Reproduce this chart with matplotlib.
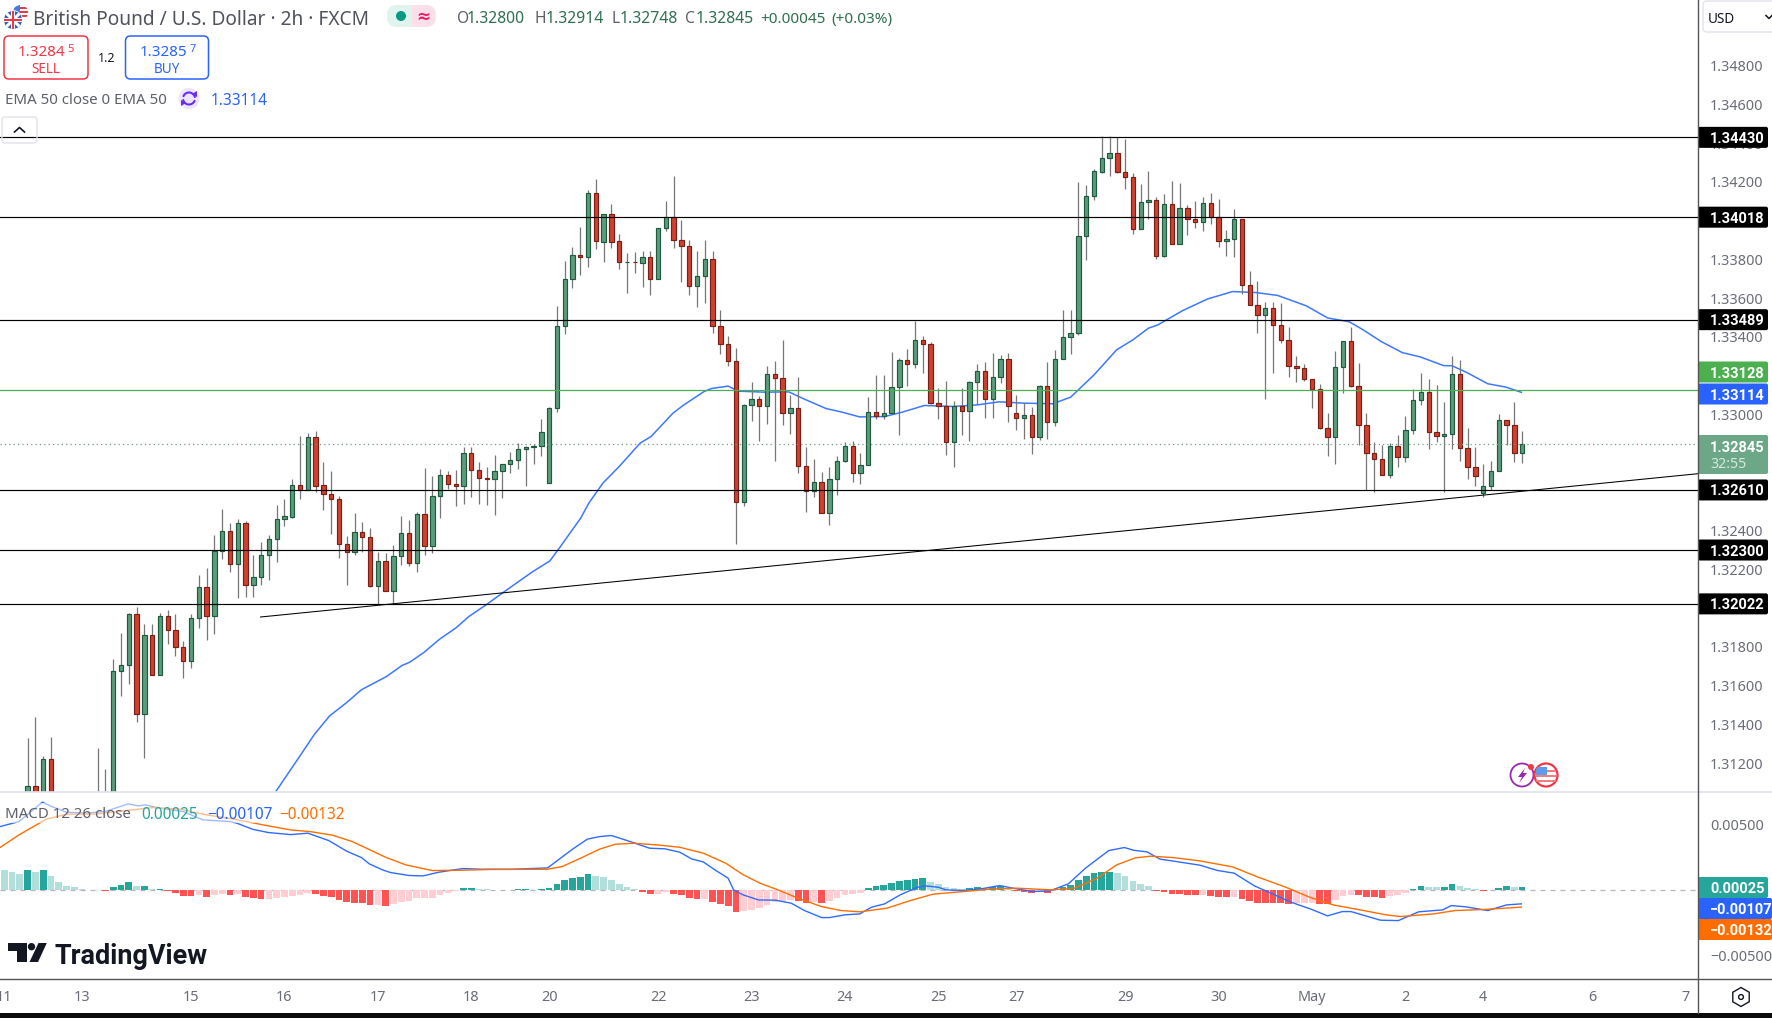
#!/usr/bin/env python3
"""GBP/USD 2h chart with EMA 50, support/resistance levels and a MACD pane."""

import matplotlib
matplotlib.use("Agg")

import matplotlib.pyplot as plt
import numpy as np
from matplotlib.patches import Circle, FancyBboxPatch, Polygon, Rectangle, RegularPolygon

plt.rcParams["font.family"] = ["Noto Sans", "DejaVu Sans"]

opens = [
    1.3095, 1.3108, 1.3090, 1.31221, 1.3090, 1.3085, 1.3080, 1.3088, 1.3082, 1.3090,
    1.3095, 1.3100, 1.31673, 1.31704, 1.31969, 1.31453, 1.31861, 1.31654, 1.31957, 1.31886,
    1.31799, 1.31727, 1.31948, 1.32108, 1.31957, 1.32294, 1.32397, 1.32227, 1.32439, 1.32119,
    1.3216, 1.32273, 1.32356, 1.32459, 1.32473, 1.32635, 1.32612, 1.32882, 1.32635, 1.32588,
    1.32562, 1.3233, 1.32292, 1.32392, 1.32366, 1.32114, 1.32243, 1.32088, 1.32268, 1.32387,
    1.32232, 1.32485, 1.3232, 1.32578, 1.32686, 1.3264, 1.32628, 1.328, 1.32712, 1.32671,
    1.32666, 1.32707, 1.32743, 1.32764, 1.3282, 1.32831, 1.32839, 1.32645, 1.33032, 1.33455,
    1.33698, 1.33821, 1.33811, 1.34141, 1.33892, 1.34033, 1.33894, 1.33785, 1.33787, 1.3378,
    1.33811, 1.33698, 1.33961, 1.34018, 1.33899, 1.33868, 1.33662, 1.33713, 1.33801, 1.33455,
    1.33362, 1.33275, 1.32547, 1.33048, 1.33079, 1.33043, 1.33208, 1.33187, 1.33006, 1.33032,
    1.32733, 1.32604, 1.3265, 1.3249, 1.32666, 1.32757, 1.32836, 1.32697, 1.32738, 1.33012,
    1.32994, 1.33006, 1.33141, 1.3328, 1.33259, 1.33383, 1.33362, 1.33061, 1.33043, 1.3286,
    1.33043, 1.33015, 1.33166, 1.33223, 1.33079, 1.33192, 1.33285, 1.33006, 1.32981, 1.32996,
    1.32881, 1.33146, 1.3296, 1.33285, 1.33399, 1.33419, 1.3392, 1.34126, 1.34253, 1.34322,
    1.34348, 1.34253, 1.34224, 1.33956, 1.34095, 1.34105, 1.33817, 1.34085, 1.33882, 1.34064,
    1.34007, 1.33995, 1.3409, 1.34018, 1.33894, 1.33904, 1.34007, 1.33667, 1.33564, 1.33512,
    1.33548, 1.3346, 1.33383, 1.33249, 1.33237, 1.33182, 1.3313, 1.32929, 1.32883, 1.33244,
    1.33378, 1.33149, 1.32944, 1.328, 1.32769, 1.32686, 1.32836, 1.32779, 1.32919, 1.33073,
    1.33115, 1.32908, 1.32888, 1.32898, 1.33208, 1.32826, 1.32731, 1.32592, 1.3263, 1.32707,
    1.3297, 1.32944, 1.328,
]
highs = [
    1.31329, 1.31438, 1.31238, 1.31334, 1.3100, 1.3095, 1.3092, 1.3098, 1.31057, 1.31278,
    1.31171, 1.31737, 1.31871, 1.31975, 1.32005, 1.31919, 1.31919, 1.31974, 1.31991, 1.31971,
    1.3183, 1.31971, 1.32172, 1.32208, 1.32378, 1.32513, 1.32439, 1.32461, 1.32449, 1.32273,
    1.32342, 1.32378, 1.32533, 1.32564, 1.32667, 1.32886, 1.32905, 1.32915, 1.32755, 1.32709,
    1.3258, 1.32373, 1.32492, 1.32445, 1.32415, 1.32291, 1.32284, 1.32327, 1.32475, 1.32454,
    1.32497, 1.32722, 1.32683, 1.32717, 1.32709, 1.32714, 1.32832, 1.32832, 1.32755, 1.32729,
    1.32789, 1.32743, 1.32807, 1.32853, 1.32836, 1.32848, 1.32977, 1.33037, 1.33557, 1.33792,
    1.33866, 1.33966, 1.34159, 1.34215, 1.34033, 1.34087, 1.3393, 1.33832, 1.33839, 1.33844,
    1.33844, 1.33961, 1.34102, 1.34231, 1.34004, 1.33899, 1.33844, 1.33899, 1.33844, 1.3354,
    1.33405, 1.33342, 1.33053, 1.33168, 1.33094, 1.33249, 1.33275, 1.33385, 1.33099, 1.33194,
    1.32833, 1.32771, 1.32704, 1.3273, 1.32786, 1.32858, 1.32864, 1.32802, 1.33091, 1.33204,
    1.33204, 1.33321, 1.3329, 1.33338, 1.33483, 1.33405, 1.33375, 1.33137, 1.33173, 1.3307,
    1.33137, 1.33173, 1.33259, 1.3327, 1.33316, 1.33307, 1.33316, 1.33101, 1.33058, 1.3304,
    1.33153, 1.3327, 1.33331, 1.3354, 1.3354, 1.342, 1.34183, 1.34265, 1.34437, 1.34437,
    1.34434, 1.34422, 1.34245, 1.3419, 1.34257, 1.34121, 1.34138, 1.34205, 1.34195, 1.34081,
    1.34102, 1.34121, 1.34143, 1.34112, 1.33951, 1.34059, 1.34007, 1.33741, 1.33689, 1.33581,
    1.33581, 1.33576, 1.33452, 1.33302, 1.33261, 1.33182, 1.33156, 1.33006, 1.33328, 1.33378,
    1.33452, 1.33264, 1.33006, 1.32858, 1.32843, 1.32853, 1.32895, 1.32993, 1.33132, 1.33213,
    1.33182, 1.33151, 1.33063, 1.33302, 1.33282, 1.32931, 1.32833, 1.32743, 1.3276, 1.33003,
    1.3297, 1.33063, 1.32914,
]
lows = [
    1.3090, 1.3085, 1.3085, 1.3085, 1.3080, 1.3075, 1.3072, 1.3078, 1.3078, 1.3085,
    1.3090, 1.3095, 1.31544, 1.31611, 1.3141, 1.31224, 1.31654, 1.31654, 1.31813, 1.31751,
    1.31637, 1.31689, 1.31895, 1.31838, 1.31869, 1.32256, 1.32184, 1.3205, 1.32055, 1.32055,
    1.3212, 1.32146, 1.32236, 1.32425, 1.32463, 1.32564, 1.32612, 1.32597, 1.32504, 1.32384,
    1.32261, 1.32117, 1.32273, 1.32292, 1.32107, 1.32017, 1.32088, 1.32026, 1.32225, 1.32215,
    1.32184, 1.32272, 1.32284, 1.32463, 1.32616, 1.32525, 1.3254, 1.32576, 1.3254, 1.32533,
    1.32483, 1.32571, 1.327, 1.32716, 1.32633, 1.32746, 1.32783, 1.32645, 1.3301, 1.33416,
    1.33655, 1.33717, 1.33763, 1.33856, 1.33787, 1.33861, 1.33748, 1.33629, 1.33732, 1.3366,
    1.33614, 1.33698, 1.33949, 1.33861, 1.33684, 1.33615, 1.33552, 1.33577, 1.33419, 1.33314,
    1.33252, 1.3233, 1.32525, 1.32967, 1.32865, 1.32953, 1.32762, 1.32946, 1.32901, 1.32695,
    1.32494, 1.32576, 1.3249, 1.32427, 1.32582, 1.32752, 1.32649, 1.32643, 1.32738, 1.32974,
    1.32974, 1.33006, 1.32896, 1.33147, 1.33242, 1.33216, 1.33056, 1.32974, 1.32788, 1.3273,
    1.32895, 1.32865, 1.33055, 1.32979, 1.32984, 1.3316, 1.32963, 1.3292, 1.32874, 1.32798,
    1.3287, 1.32874, 1.32938, 1.33285, 1.33314, 1.33409, 1.33798, 1.34107, 1.34248, 1.34233,
    1.34245, 1.34164, 1.33933, 1.33956, 1.34007, 1.338, 1.3381, 1.33877, 1.33882, 1.33927,
    1.33963, 1.33947, 1.33983, 1.33866, 1.3382, 1.3381, 1.33624, 1.33564, 1.33421, 1.33082,
    1.33216, 1.33368, 1.33192, 1.33165, 1.33175, 1.33034, 1.32924, 1.32783, 1.32742, 1.33113,
    1.33139, 1.3284, 1.32611, 1.32597, 1.32686, 1.32674, 1.32731, 1.32752, 1.32901, 1.33046,
    1.32821, 1.32857, 1.32597, 1.32824, 1.32757, 1.32669, 1.32628, 1.32576, 1.32611, 1.32707,
    1.3284, 1.32752, 1.32748,
]
closes = [
    1.3108, 1.3090, 1.31221, 1.3090, 1.3085, 1.3080, 1.3088, 1.3082, 1.3090, 1.3095,
    1.3100, 1.31675, 1.31706, 1.31969, 1.31453, 1.31861, 1.31654, 1.31957, 1.31886, 1.31799,
    1.31727, 1.31948, 1.32108, 1.31957, 1.32296, 1.32397, 1.32227, 1.32439, 1.32119, 1.3216,
    1.32273, 1.32356, 1.32459, 1.32475, 1.32635, 1.32611, 1.32882, 1.32633, 1.32587, 1.32561,
    1.3233, 1.32292, 1.32392, 1.32366, 1.32114, 1.32243, 1.32088, 1.32268, 1.32387, 1.32232,
    1.32485, 1.3232, 1.32578, 1.32686, 1.3264, 1.32628, 1.328, 1.32712, 1.32671, 1.32669,
    1.32707, 1.32743, 1.32764, 1.3282, 1.32831, 1.32839, 1.32908, 1.33032, 1.33455, 1.33698,
    1.33821, 1.33811, 1.34141, 1.33894, 1.34033, 1.33892, 1.33786, 1.33787, 1.33785, 1.33811,
    1.33698, 1.33961, 1.34018, 1.33899, 1.33868, 1.33662, 1.33713, 1.33801, 1.33455, 1.33362,
    1.33275, 1.32547, 1.33048, 1.33079, 1.33043, 1.33208, 1.33187, 1.33006, 1.33032, 1.32733,
    1.32604, 1.3265, 1.3249, 1.32666, 1.32759, 1.32836, 1.32697, 1.32738, 1.33012, 1.32994,
    1.33006, 1.33141, 1.3328, 1.33259, 1.33383, 1.33362, 1.33061, 1.33043, 1.3286, 1.33043,
    1.33015, 1.33166, 1.33223, 1.33079, 1.33192, 1.33285, 1.33043, 1.32981, 1.32996, 1.32881,
    1.33146, 1.3296, 1.33285, 1.33399, 1.33419, 1.3392, 1.34126, 1.34255, 1.34322, 1.34348,
    1.34253, 1.34224, 1.33956, 1.34095, 1.34105, 1.33817, 1.34085, 1.33882, 1.34064, 1.34007,
    1.33995, 1.3409, 1.34018, 1.33894, 1.33904, 1.34007, 1.33667, 1.33564, 1.33512, 1.33548,
    1.3346, 1.33383, 1.33249, 1.33237, 1.33182, 1.3313, 1.32929, 1.32883, 1.33244, 1.33378,
    1.33149, 1.32944, 1.328, 1.32769, 1.32686, 1.32836, 1.32779, 1.32919, 1.33073, 1.33115,
    1.32908, 1.32888, 1.32898, 1.33208, 1.32826, 1.32731, 1.3268, 1.3263, 1.32707, 1.3297,
    1.32944, 1.328, 1.32845,
]

ema_bars = [
    31.9, 34.8, 36.8, 38.8, 41, 42.9, 46.1, 48.1, 49.1, 50.9, 53, 55, 56.7, 58.9, 61.1, 64.8, 67.1,
    68.4, 71.06, 72.1, 73.9, 76, 78.7, 80.1, 82.9, 84.2, 86.9, 87.9, 90, 91.3, 94.5, 97.8, 100,
    102.6, 104.6, 106.9, 110.1, 112.4, 115.2, 118.9, 122, 124.8, 128, 131.7, 134, 137, 139.9, 142,
    144, 145.2, 148.4, 151.6, 154.8, 157.8, 160.6, 164.3, 167, 169.8, 171.6, 173.9, 176.6, 178.9,
    181.9, 183, 184.9, 187.6, 189.9, 191.9,
]
ema_values = [
    1.31054, 1.31226, 1.31346, 1.31444, 1.31513, 1.31579, 1.31647, 1.31704, 1.31721, 1.31771,
    1.31842, 1.31897, 1.31957, 1.32017, 1.32081, 1.32186, 1.32244, 1.32315, 1.32465, 1.32542,
    1.32645, 1.32731, 1.32852, 1.32886, 1.33006, 1.33046, 1.33118, 1.33134, 1.33146, 1.3312,
    1.33115, 1.33116, 1.33075, 1.3303, 1.33012, 1.32987, 1.32989, 1.33012, 1.33046, 1.33041,
    1.33049, 1.33065, 1.33058, 1.33055, 1.33089, 1.33204, 1.33333, 1.33385, 1.33445, 1.33462,
    1.33536, 1.33596, 1.33634, 1.33629, 1.33614, 1.3356, 1.33498, 1.33478, 1.33436, 1.33376,
    1.33319, 1.33297, 1.33252, 1.33251, 1.33216, 1.33158, 1.33141, 1.33114,
]

levels = [1.34430, 1.34018, 1.33489, 1.32610, 1.32300, 1.32022]
level_labels = ["1.34430", "1.34018", "1.33489", "1.32610", "1.32300", "1.32022"]
green_level = 1.33128
last_price = 1.32845
trend_bars = [29.86, 214.6]
trend_prices = [1.31954, 1.32694]

# scale values that sit fully behind a tag in the reference are left out
price_ticks = [1.348, 1.346, 1.344, 1.342, 1.338, 1.336, 1.334, 1.330,
               1.324, 1.322, 1.318, 1.316, 1.314, 1.312]
day_ticks = [-3, 7, 21, 33, 45, 57, 67, 81, 93, 105, 117, 127, 141, 153, 165, 177, 187, 201, 213]
day_labels = ["11", "13", "15", "16", "17", "18", "20", "22", "23", "24", "25", "27", "29", "30",
              "May", "2", "4", "6", "7"]

# histogram starts three bars left of the first candle
macd_hist = [
    .00153, .00137, .00121, .00153, .00137, .00153, .00106, .00061, .0003, .00023,
    .00008, .00002, -.00003, -.00008, .00022, .00037, .00061, .0003, .00031, .00008,
    .00009, -.00006, -.00021, -.00047, -.00048, -.00039, -.00055, -.00039, -.00031, -.00039,
    -.00031, -.00055, -.00062, -.00072, -.00069, -.00062, -.00055, -.00047, -.00039, -.00024,
    -.00031, -.00047, -.00055, -.00077, -.00093, -.001, -.00101, -.00115, -.00114, -.00123,
    -.00108, -.00093, -.00085, -.00064, -.00063, -.00062, -.00039, -.00024, -.00008, .00015,
    .00016, .00005, .00003, .00002, -.00003, -.00004, .00003, .00004, .00002, .00008,
    .00015, .00045, .00076, .0009, .00098, .00121, .00106, .00102, .00077, .00043,
    .00023, .00008, -.00013, -.00031, -.0003, -.0002, -.00028, -.00038, -.00061, -.00069,
    -.00068, -.00092, -.00107, -.00122, -.00168, -.00161, -.00153, -.00138, -.00115, -.0009,
    -.00084, -.00077, -.00084, -.00099, -.00092, -.00099, -.00084, -.00061, -.00038, -.00031,
    -.00023, .00015, .00031, .00038, .00054, .00069, .00077, .00084, .00092, .00061,
    .00046, .00023, .00015, .00008, .00015, .00023, .00015, .00023, .00031, .00015,
    -.00008, -.00015, -.00023, -.00008, -.00023, .00008, .00023, .00038, .00077, .00107,
    .0013, .00138, .00139, .0013, .00107, .00069, .00046, .00031, -.00005, -.00015,
    -.00031, -.00032, -.00038, -.0004, -.00038, -.00046, -.00054, -.00055, -.00054, -.00069,
    -.00084, -.00099, -.001, -.00101, -.00102, -.00107, -.00101, -.001, -.00099, -.00107,
    -.00108, -.00077, -.00046, -.00038, -.00039, -.00054, -.00055, -.00061, -.00046, -.00038,
    -.00023, .00008, .00031, .00023, .00022, .00024, .00046, .00031, .00015, .00008,
    -.00005, -.00003, .00015, .00031, .00023, .00025,
]

macd_bars = [
    -3.5, -1.1, 1.9, 3.1, 5, 7.5, 10, 12.9, 14.2, 15.1, 17.1, 20, 22.5, 26, 26.9, 28.9, 30.9, 33.8,
    36, 38.7, 41, 42.9, 43.9, 45.6, 46.6, 49, 50.8, 52.8, 55.9, 58.4, 62.3, 66.8, 70, 71.9, 73.5,
    75, 77.4, 79.9, 81.9, 83.8, 85.3, 86.8, 88.3, 90, 90.7, 91.9, 93.9, 96.1, 98.1, 99.8, 102, 103,
    105, 106.9, 108.4, 110.1, 112.1, 114.3, 115.3, 117, 118, 120.2, 122.7, 124.9, 126.6, 129.1,
    131.3, 133.7, 135.9, 138.9, 140.9, 142.1, 143.8, 145.5, 147, 150.6, 152.9, 155, 157.6, 160,
    162.3, 164.9, 167, 168.9, 170, 173.8, 176.1, 178.7, 181.8, 182.9, 184.8, 187.6, 190, 191.9,
]
macd_line = [
    .00485, .00523, .00671, .00638, .00594, .00587, .00600, .00658, .00643, .0065, .00625, .00599,
    .00536, .00523, .0051, .00464, .00439, .00423, .00434, .00377, .00296, .00247, .00199, .00153,
    .00133, .0011, .00107, .00135, .00163, .00158, .00158, .00168, .00311, .00388, .00408,
    .00416, .0037, .00319, .00314, .00288, .00237, .00214, .00153, .00089, 0, -.00038, -.00077,
    -.00079, -.00102, -.00158, -.00212, -.00212, -.00191, -.00184, -.00133, -.00107, -.00038,
    .0002, .00031, .0002, 0, -.00005, .0001, .00033, .00013, -.00013, -.00008, .00046, .00166,
    .00301, .00324, .00303, .00291, .00235, .00222, .00189, .00148, .00128, .00031, -.00033,
    -.00094, -.00148, -.00199, -.00166, -.00166, -.00232, -.00235, -.00168, -.00153, -.0012,
    -.0013, -.00158, -.00115, -.00107,
]
signal_bars = [
    -3.5, -1.1, 2.4, 5, 8.8, 12.7, 16.1, 19.6, 23, 26.5, 30.9, 33.8, 36.3, 39.2, 41.7, 46.1, 48.6,
    52, 55.5, 59.4, 66.8, 68.7, 71.2, 73.5, 75.5, 77.9, 80.9, 83.8, 86.8, 89.7, 91.9, 94.1, 96.4,
    99, 102, 104.5, 106.9, 110.4, 113.3, 116.3, 120.2, 124.1, 127.1, 131.5, 134.5, 137.4, 139.9,
    142.3, 144.3, 147.2, 150.6, 154.8, 158.1, 161.4, 164.7, 167.7, 171.2, 174.5, 176.4, 180.6,
    183.4, 187.1, 191.9,
]
signal_line = [
    .00326, .00421, .00541, .00579, .00581, .00607, .0063, .00617, .00574, .00541, .0049, .00459,
    .00446, .00418, .0037, .00247, .00191, .00148, .0015, .00156, .00158, .00179, .00247, .00312,
    .00349, .00357, .00344, .00326, .00281, .00204, .00117, .00051, 0, -.00064, -.00128, -.00158,
    -.00168, -.0014, -.00084, -.00033, -.00013, .00008, .00013, 0, .00013, .00089, .00191, .00245,
    .00258, .00247, .00222, .00176, .00097, .00026, -.00056, -.00115, -.00153, -.00191, -.00204,
    -.00184, -.00158, -.0015, -.00132,
]

W, H = 1772, 1018
PANE_RIGHT, PRICE_BOTTOM, MACD_BOTTOM = 1698, 792, 979
BAR0_PX, BAR_STEP = 27.6, 7.784

GREY_TEXT = "#5d606b"
AXIS_TEXT = "#6a6d78"
TEAL, LIGHT_TEAL = "#26a69a", "#b2dfdb"
RED, PINK = "#ff5252", "#ffcdd2"
BLUE, ORANGE = "#2962ff", "#ff6d00"

fig = plt.figure(figsize=(W / 100, H / 100), dpi=100, facecolor="white")


def pane(top, bottom):
    return fig.add_axes([0, (H - bottom) / H, PANE_RIGHT / W, (bottom - top) / H])


xlim = (-BAR0_PX / BAR_STEP, (PANE_RIGHT - BAR0_PX) / BAR_STEP)

# Price pane
ax = pane(0, PRICE_BOTTOM)
ax.set_xlim(xlim)
ax.set_ylim(1.31051, 1.35139)
for s in ax.spines.values():
    s.set_visible(False)

bars = np.arange(len(opens))
o, h, l, c = map(np.array, (opens, highs, lows, closes))
up = c >= o
ax.plot(ema_bars, ema_values, color="#3d78ff", lw=1.1, zorder=2)
ax.vlines(bars, l, h, color="#777777", lw=0.9, zorder=3)
ax.bar(bars[up], (c - o)[up], bottom=o[up], width=0.56, color="#5c9c7c", edgecolor="#1d5a3e",
       linewidth=0.85, zorder=4)
ax.bar(bars[~up], (o - c)[~up], bottom=c[~up], width=0.56, color="#d0402f", edgecolor="#7a1f15",
       linewidth=0.85, zorder=4)

ax.axhline(green_level, color="#4caf50", lw=0.9, zorder=5)
ax.axhline(last_price, color="#6a9c84", lw=0.9, ls=(0, (1, 2.5)), zorder=5)
for lv in levels:
    ax.axhline(lv, color="black", lw=0.85, zorder=6)
ax.plot(trend_bars, trend_prices, color="black", lw=0.75, zorder=6, solid_capstyle="butt")

ax.yaxis.tick_right()
ax.set_yticks(price_ticks, [f"{t:.5f}" for t in price_ticks])
ax.tick_params(axis="y", length=0, pad=8.6, labelsize=10.4, labelcolor=AXIS_TEXT)
ax.set_xticks([])

# MACD pane
am = pane(PRICE_BOTTOM, MACD_BOTTOM)
am.set_xlim(xlim)
am.set_ylim(-.00682, .00749)
for s in am.spines.values():
    s.set_visible(False)

hist_x = np.arange(-3, len(opens))
hist = np.array(macd_hist)
prev = np.r_[np.inf, hist[:-1]]
hist_colors = [
    (TEAL if p < v else LIGHT_TEAL) if v >= 0 else (PINK if p < v else RED)
    for v, p in zip(hist, prev)
]
am.axhline(0, color="#b2b5be", lw=0.9, ls=(0, (4, 4)), zorder=1)
am.bar(hist_x, hist, width=0.86, color=hist_colors, zorder=2)
am.plot(macd_bars, macd_line, color="#2f6bff", lw=1.0, zorder=3)
am.plot(signal_bars, signal_line, color=ORANGE, lw=1.0, zorder=4)

am.yaxis.tick_right()
am.set_yticks([.005, -.005], ["0.00500", "\u22120.00500"])
am.tick_params(axis="y", length=0, pad=8.6, labelsize=10.4, labelcolor=AXIS_TEXT)
am.set_xticks(day_ticks, day_labels)
am.tick_params(axis="x", length=0, pad=8, labelsize=10.4, labelcolor=AXIS_TEXT)
for tl in am.get_xticklabels():
    if tl.get_text() == "May":
        tl.set_fontweight("bold")

# Everything around the panes is drawn in screen pixels on one overlay
ui = fig.add_axes([0, 0, 1, 1], zorder=10)
ui.set_xlim(0, W)
ui.set_ylim(H, 0)
ui.axis("off")
ui.patch.set_visible(False)


def price_y(axes, value):
    return H - axes.transData.transform((0, value))[1]


def px_text(x, y, s, size=14, color=GREY_TEXT, ha="left", **kw):
    return ui.text(x, y, s, fontsize=size * 0.72, color=color, ha=ha, va="center_baseline", **kw)


def round_box(x0, y0, x1, y1, face="none", edge="none", lw=1.0, r=3):
    p = FancyBboxPatch((x0 + r, y0 + r), x1 - x0 - 2 * r, y1 - y0 - 2 * r,
                       boxstyle=f"round,pad={r},rounding_size={r}", fc=face, ec=edge, lw=lw)
    ui.add_patch(p)
    return p


def axis_tag(y, s, face, x1=1768, h=21, color="white"):
    round_box(1698, y - h / 2, x1, y + h / 2, face=face, r=2)
    px_text(1710, y, s, size=14.6, color=color, family="Roboto", fontweight="bold")


# Pane frames
ui.plot([0, W], [PRICE_BOTTOM, PRICE_BOTTOM], color="#e0e3eb", lw=1.2)
ui.plot([0, W], [MACD_BOTTOM, MACD_BOTTOM], color="#555555", lw=1.0)
ui.plot([PANE_RIGHT, PANE_RIGHT], [0, 1013], color="#555555", lw=1.0)
ui.add_patch(Rectangle((0, 1013), W, 5, fc="#0b0b0b", ec="none"))

# Price axis tags
for lv, s in zip(levels, level_labels):
    axis_tag(price_y(ax, lv), s, "black")
axis_tag(372, "1.33128", "#4caf50")
axis_tag(394, "1.33114", BLUE)
round_box(1698, 435, 1768, 474, face="#6ca888", r=2)
px_text(1710, 446, "1.32845", size=14.6, color="white", family="Roboto", fontweight="bold")
px_text(1710, 463, "32:55", size=14.2, color="#d6e8dd")

# MACD axis tags
axis_tag(887.5, "0.00025", TEAL)
axis_tag(908.5, "\u22120.00107", BLUE, x1=1772)
axis_tag(929.5, "\u22120.00132", ORANGE, x1=1772)

# Currency button
round_box(1703, 1, 1780, 32, face="white", edge="#e0e3eb", r=4)
px_text(1708, 17, "USD", size=13.5, color="#131722")
ui.plot([1766, 1769, 1772], [15.5, 18.5, 15.5], color="#131722", lw=1.1)

# Settings hexagon
ui.add_patch(RegularPolygon((1741, 997), 6, radius=9.5, orientation=0, fc="none", ec="#131722", lw=1.0))
ui.add_patch(Circle((1741, 997), 2.4, fc="none", ec="#131722", lw=1.0))

# Flags
us = Circle((20.5, 12.5), 7.5, fc="white", ec="none")
ui.add_patch(us)
for y0 in (7, 11, 15):
    r = Rectangle((13, y0), 16, 2, fc="#e8394a", ec="none")
    ui.add_patch(r)
    r.set_clip_path(us)
r = Rectangle((13, 5), 7.5, 7, fc="#3f7fe0", ec="none")
ui.add_patch(r)
r.set_clip_path(us)
ui.add_patch(Circle((13, 20), 9.8, fc="white", ec="none"))
uk = Circle((13, 20), 9, fc="#2a5db0", ec="none")
ui.add_patch(uk)
for xs, ys, col, w in (
    ([4, 22], [11, 29], "white", 2.2), ([4, 22], [29, 11], "white", 2.2),
    ([4, 22], [20, 20], "white", 3), ([13, 13], [11, 29], "white", 3),
    ([4, 22], [20, 20], "#e8394a", 1.5), ([13, 13], [11, 29], "#e8394a", 1.5),
):
    ln, = ui.plot(xs, ys, color=col, lw=w)
    ln.set_clip_path(uk)

# Header
px_text(33, 17, "British Pound / U.S. Dollar \u00b7 2h \u00b7 FXCM", size=19.1, color="#50535e")

round_box(387, 5, 412.5, 27, face="#e0f3ef", r=10)
round_box(412.5, 5, 436, 27, face="#fce0e9", r=10)
ui.add_patch(Rectangle((403, 5), 9.5, 22, fc="#e0f3ef", ec="none"))
ui.add_patch(Rectangle((412.5, 5), 9, 22, fc="#fce0e9", ec="none"))
ui.add_patch(Circle((401, 16), 5, fc="#089981", ec="none"))
px_text(423, 15.5, "\u2248", size=17, color="#e91e63", ha="center", fontweight="bold")

VALUE_GREEN = "#2f6f52"
for lx, vx, letter, val in ((457.3, 466.7, "O", "1.32800"), (535, 546, "H", "1.32914"),
                            (611.7, 620, "L", "1.32748"), (685, 696, "C", "1.32845")):
    px_text(lx, 17, letter, size=15.5, color=GREY_TEXT)
    px_text(vx, 17, val, size=15.7, color=VALUE_GREEN)
px_text(760.7, 17, "+0.00045", size=15.3, color=VALUE_GREEN)
px_text(831.7, 17, "(+0.03%)", size=15.3, color=VALUE_GREEN)

# Sell / buy boxes
round_box(4, 36, 88, 79, face="white", edge="#f23645", lw=1.1, r=5)
px_text(18, 50, "1.3284", size=15.2, color="#f23645", fontweight="medium")
px_text(67.5, 48, "5", size=11, color="#f23645")
px_text(45.5, 67, "SELL", size=13.5, color="#f23645", ha="center")
px_text(107, 57, "1.2", size=12.5, color="#131722", ha="center")
round_box(125.5, 36, 208.5, 79, face="white", edge=BLUE, lw=1.1, r=5)
px_text(140, 50, "1.3285", size=15.2, color=BLUE, fontweight="medium")
px_text(190, 48, "7", size=11, color=BLUE)
px_text(167, 67, "BUY", size=13.5, color=BLUE, ha="center")

# EMA legend
px_text(5, 98.5, "EMA 50 close 0 EMA 50", size=15)
ui.add_patch(Circle((189, 98.5), 10.5, fc="#ede5ff", ec="none"))
theta = np.linspace(0.3, 2.7, 20)
ui.plot(189 + 6 * np.cos(theta), 98.5 - 6 * np.sin(theta), color="#6a2cf0", lw=1.5)
ui.plot(189 - 6 * np.cos(theta), 98.5 + 6 * np.sin(theta), color="#6a2cf0", lw=1.5)
ui.add_patch(Polygon([(192, 94), (197, 91), (197, 97)], fc="#6a2cf0", ec="none"))
ui.add_patch(Polygon([(186, 103), (181, 100), (181, 106)], fc="#6a2cf0", ec="none"))
px_text(211, 98.5, "1.33114", size=15.4, color=BLUE)

# Collapse button
round_box(2, 117, 37, 143, edge="#e0e3eb", lw=1.0, r=3)
ui.plot([14.5, 19.5, 24.5], [132, 127.5, 132], color="#131722", lw=1.2)

# Event markers
ui.add_patch(Circle((1522, 775), 11.5, fc="white", ec="#9c27b0", lw=1.3))
ui.add_patch(Polygon([(1525, 768), (1518, 777), (1522, 777), (1519, 783), (1527, 773), (1523, 773)],
                     fc="#9c27b0", ec="none"))
flag = Circle((1546, 775), 11.5, fc="white", ec="#f23645", lw=1.6)
ui.add_patch(flag)
for y0 in (770, 775, 780):
    s = Rectangle((1536, y0), 20, 2.4, fc="#f77c80", ec="none")
    ui.add_patch(s)
    s.set_clip_path(flag)
s = Rectangle((1536, 767), 11, 8, fc="#5b9cf0", ec="none")
ui.add_patch(s)
s.set_clip_path(flag)
ui.add_patch(Circle((1531, 767), 3, fc="#f23645", ec="none"))

# MACD legend, the pale backing fades the lines behind it
ui.add_patch(Rectangle((3, 803), 343, 20, fc="white", ec="none", alpha=0.55))
px_text(5, 813, "MACD 12 26 close", size=15)
px_text(141.5, 813, "0.00025", size=15.4, color=TEAL)
px_text(207, 813, "\u22120.00107", size=15.4, color=BLUE)
px_text(279, 813, "\u22120.00132", size=15.4, color=ORANGE)

# TradingView mark
INK = "#131722"
ui.add_patch(Polygon([(8.4, 943), (27, 943), (27, 962), (17, 962), (17, 950.5), (8.4, 950.5)], fc=INK, ec="none"))
ui.add_patch(Circle((31.5, 946.7), 3.7, fc=INK, ec="none"))
ui.add_patch(Polygon([(38.5, 943), (46.8, 943), (38, 962), (29.5, 962)], fc=INK, ec="none"))
px_text(55, 953, "TradingView", size=27, color=INK, family="Roboto", fontweight="bold")

plt.savefig("out.png", dpi=100)
